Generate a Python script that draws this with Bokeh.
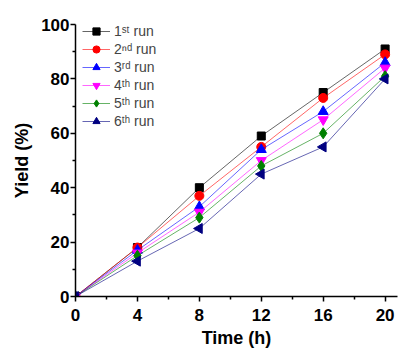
from bokeh.plotting import figure
from bokeh.models import FixedTicker, Range1d, Legend, LegendItem
from bokeh.embed import file_html
from bokeh.resources import INLINE

time_h = [0, 4, 8, 12, 16, 20]
run1 = [0, 18, 40, 59, 75, 91]
run2 = [0, 18, 37, 55, 73, 89]
run3 = [0, 17, 33, 54, 68, 86]
run4 = [0, 16, 31, 50, 65, 84]
run5 = [0, 15, 29, 48, 60, 81]
run6 = [0, 13, 25, 45, 55, 80]
labels = ["1\u02e2\u1d57 run", "2\u207f\u1d48 run", "3\u02b3\u1d48 run",
          "4\u1d57\u02b0 run", "5\u1d57\u02b0 run", "6\u1d57\u02b0 run"]
x_ticks = [0, 4, 8, 12, 16, 20]
x_minor = [2, 6, 10, 14, 18]
y_ticks = [0, 20, 40, 60, 80, 100]
y_minor = [10, 30, 50, 70, 90]

series = [run1, run2, run3, run4, run5, run6]
colors = ["#000000", "#ff0000", "#0000ff", "#ff00ff", "#008000", "#000080"]
markers = ["square", "circle", "triangle", "inverted_triangle", "diamond", "triangle"]
angles = [0, 0, 0, 0, 0, 1.5708]
sizes = [8, 9, 10, 10, 11, 10]

p = figure(width=400, height=350, output_backend="svg", toolbar_location=None,
           x_range=Range1d(0, 20.8), y_range=Range1d(0, 100),
           min_border_left=75, min_border_right=3, min_border_top=24, min_border_bottom=49)
p.outline_line_color = None
p.xgrid.visible = False
p.ygrid.visible = False

items = []
for ys, c, m, a, s, lab in zip(series, colors, markers, angles, sizes, labels):
    l = p.line(time_h, ys, line_color=c, line_width=1, line_alpha=0.6)
    r = p.scatter(time_h, ys, marker=m, angle=a, size=s, fill_color=c, line_color=c)
    items.append(LegendItem(label=lab, renderers=[l, r]))

legend = Legend(items=items, location=(7, 277 - 111), border_line_color=None,
                background_fill_alpha=0, padding=0, margin=0, spacing=0,
                glyph_width=28, glyph_height=18, label_height=18,
                label_standoff=4, label_text_font="Liberation Sans",
                label_text_font_size="14px")
p.add_layout(legend)

for ax, t, mn in [(p.xaxis[0], x_ticks, x_minor), (p.yaxis[0], y_ticks, y_minor)]:
    ax.ticker = FixedTicker(ticks=t, minor_ticks=mn)
    ax.axis_line_width = 1.5
    ax.major_tick_line_width = 1.5
    ax.minor_tick_line_width = 1.5
    ax.major_tick_out = 5
    ax.major_tick_in = 0
    ax.minor_tick_out = 3
    ax.minor_tick_in = 0
    ax.major_label_text_font = "Liberation Sans"
    ax.major_label_text_font_style = "bold"
    ax.major_label_text_font_size = "17px"
    ax.major_label_text_color = "black"
    ax.axis_label_text_font = "Liberation Sans"
    ax.axis_label_text_font_style = "bold"
    ax.axis_label_text_font_size = "18px"
    ax.axis_label_text_color = "black"

p.xaxis.axis_label = "Time (h)"
p.yaxis.axis_label = "Yield (%)"
p.xaxis.major_label_standoff = 7
p.xaxis.axis_label_standoff = 4
p.yaxis.major_label_standoff = 1
p.yaxis.axis_label_standoff = 6

open("out.html", "w").write(file_html(p, INLINE))
